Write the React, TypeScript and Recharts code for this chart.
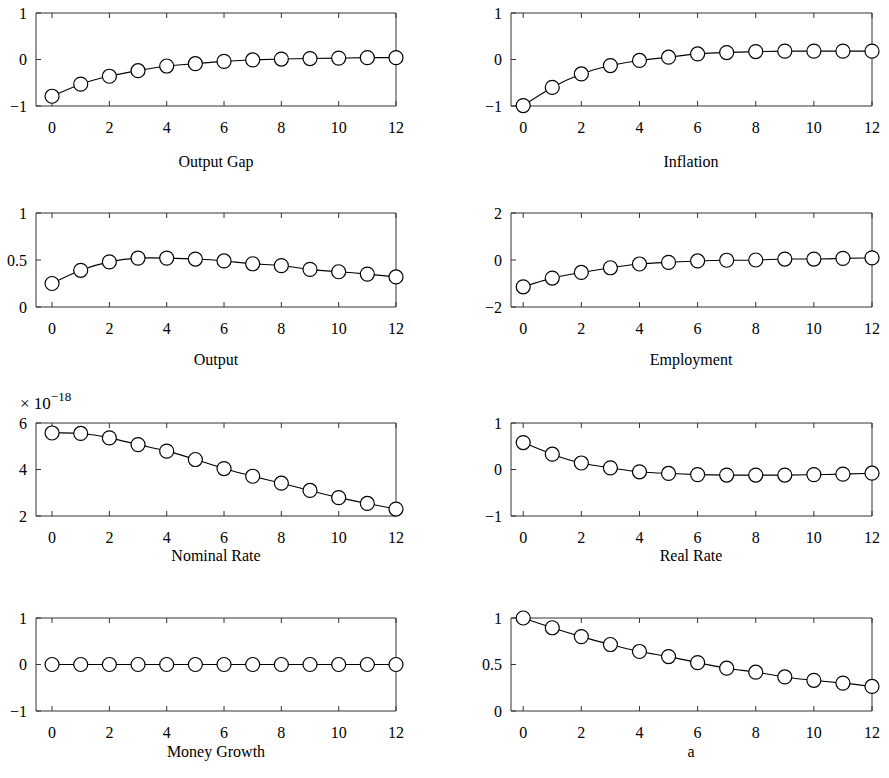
import React from 'react';
import { LineChart, Line, XAxis, YAxis } from 'recharts';

// horizon (quarters)
const steps = [0, 1, 2, 3, 4, 5, 6, 7, 8, 9, 10, 11, 12];
const xTicks = [0, 2, 4, 6, 8, 10, 12];

// impulse responses
const outputGap = [-0.79, -0.53, -0.36, -0.24, -0.14, -0.09, -0.04, -0.01, 0.01, 0.02, 0.03, 0.04, 0.04];
const inflation = [-0.99, -0.6, -0.31, -0.13, -0.02, 0.05, 0.12, 0.15, 0.17, 0.18, 0.18, 0.18, 0.18];
const output = [0.25, 0.39, 0.48, 0.52, 0.52, 0.51, 0.49, 0.46, 0.44, 0.4, 0.375, 0.35, 0.32];
const employment = [-1.14, -0.77, -0.53, -0.33, -0.17, -0.1, -0.04, -0.01, 0.0, 0.04, 0.04, 0.07, 0.09];
// nominal rate in units of 1e-18
const nominalRate = [5.57, 5.55, 5.36, 5.07, 4.79, 4.43, 4.04, 3.71, 3.41, 3.1, 2.79, 2.54, 2.3];
const realRate = [0.58, 0.33, 0.14, 0.035, -0.05, -0.085, -0.11, -0.12, -0.12, -0.12, -0.11, -0.1, -0.08];
const moneyGrowth = [0, 0, 0, 0, 0, 0, 0, 0, 0, 0, 0, 0, 0];
const techA = [1.0, 0.895, 0.8, 0.715, 0.64, 0.585, 0.52, 0.46, 0.417, 0.366, 0.33, 0.3, 0.264];

const titles = ['Output Gap', 'Inflation', 'Output', 'Employment', 'Nominal Rate', 'Real Rate', 'Money Growth', 'a'];
const series = [outputGap, inflation, output, employment, nominalRate, realRate, moneyGrowth, techA];
const yDomains: [number, number][] = [[-1, 1], [-1, 1], [0, 1], [-2, 2], [2, 6], [-1, 1], [-1, 1], [0, 1]];
const yTickSets = [[-1, 0, 1], [-1, 0, 1], [0, 0.5, 1], [-2, 0, 2], [2, 4, 6], [-1, 0, 1], [-1, 0, 1], [0, 0.5, 1]];

const FONT = '"Liberation Serif", "DejaVu Serif", serif';
const AX = '#333';

const fmt = (v: number) => (v < 0 ? '\u2212' + Math.abs(v) : String(v));

// layout (plot box edges are margin + 1px axis size)
const cols = [
  { left: 0, width: 420, ml: 35, mr: 23, xMin: -0.56, titleX: 216 },
  { left: 440, width: 449, ml: 70, mr: 16, xMin: -0.42, titleX: 691 },
];
const rows = [
  { top: 0, height: 195, mt: 12, mb: 88, titleY: 162 },
  { top: 195, height: 195, mt: 17, mb: 82, titleY: 360 },
  { top: 390, height: 195, mt: 32, mb: 68, titleY: 556 },
  { top: 585, height: 193, mt: 32, mb: 66, titleY: 752 },
];

const NoTick = () => <g />;

function Panel({ idx }: { idx: number }) {
  const col = cols[idx % 2];
  const row = rows[Math.floor(idx / 2)];
  const vals = series[idx];
  const data = steps.map((t, i) => ({ t, v: vals[i] }));
  const dom = yDomains[idx];
  const yt = yTickSets[idx];
  return (
    <>
      <div style={{ position: 'absolute', left: col.left, top: row.top }}>
        <LineChart
          width={col.width}
          height={row.height}
          data={data}
          margin={{ top: row.mt, right: col.mr, bottom: row.mb, left: col.ml }}
        >
          <XAxis
            dataKey="t"
            type="number"
            domain={[col.xMin, 12]}
            ticks={xTicks}
            height={1}
            tickSize={-5}
            tickMargin={21}
            axisLine={{ stroke: AX }}
            tickLine={{ stroke: AX }}
            tick={{ fill: '#000', fontSize: 16, fontFamily: FONT }}
            interval={0}
          />
          <XAxis
            xAxisId="top"
            orientation="top"
            dataKey="t"
            type="number"
            domain={[col.xMin, 12]}
            ticks={xTicks}
            height={1}
            tickSize={-5}
            axisLine={{ stroke: AX }}
            tickLine={{ stroke: AX }}
            tick={NoTick}
            interval={0}
          />
          <YAxis
            type="number"
            domain={dom}
            ticks={yt}
            width={1}
            tickSize={-5}
            tickMargin={14}
            axisLine={{ stroke: AX }}
            tickLine={{ stroke: AX }}
            tick={{ fill: '#000', fontSize: 16, fontFamily: FONT }}
            tickFormatter={fmt}
            interval={0}
          />
          <YAxis
            yAxisId="right"
            orientation="right"
            type="number"
            domain={dom}
            ticks={yt}
            width={1}
            tickSize={-5}
            axisLine={{ stroke: AX }}
            tickLine={{ stroke: AX }}
            tick={NoTick}
            interval={0}
          />
          <Line
            dataKey="v"
            type="natural"
            stroke="#000"
            strokeWidth={1.1}
            dot={{ r: 7, fill: '#fff', stroke: '#000', strokeWidth: 1.2 }}
            isAnimationActive={false}
          />
        </LineChart>
      </div>
      <div
        style={{
          position: 'absolute',
          left: col.titleX - 100,
          width: 200,
          top: row.titleY - 10,
          lineHeight: '20px',
          textAlign: 'center',
          fontFamily: FONT,
          fontSize: 16,
          color: '#000',
        }}
      >
        {titles[idx]}
      </div>
    </>
  );
}

export default function App() {
  return (
    <div style={{ position: 'absolute', left: 0, top: 0, width: 889, height: 778, background: '#fff' }}>
      {titles.map((_, i) => (
        <Panel key={i} idx={i} />
      ))}
      <div
        style={{
          position: 'absolute',
          left: 20,
          top: 394,
          lineHeight: '20px',
          fontFamily: FONT,
          fontSize: 17,
          color: '#000',
          whiteSpace: 'nowrap',
        }}
      >
        {'\u00d7 10'}
        <sup style={{ fontSize: 13, verticalAlign: 'baseline', position: 'relative', top: -8 }}>{'\u221218'}</sup>
      </div>
    </div>
  );
}
